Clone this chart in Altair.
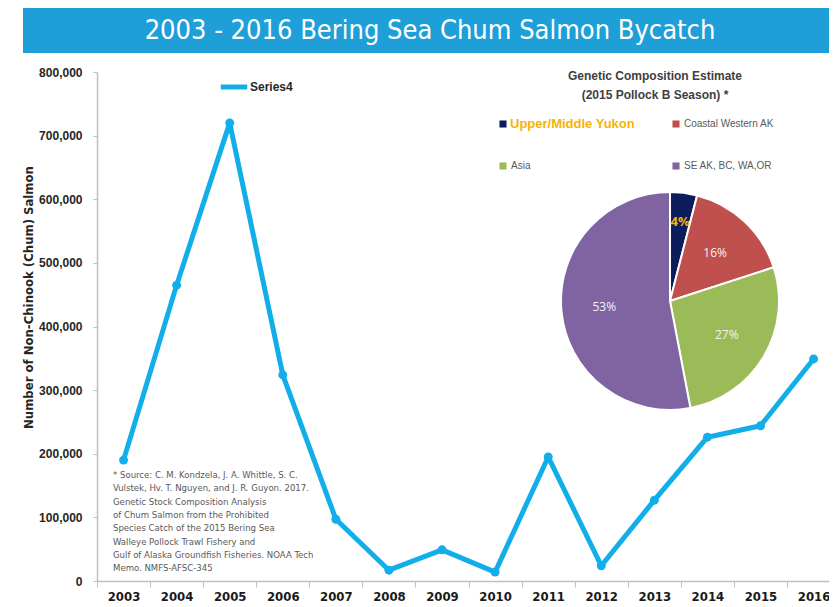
import altair as alt
import pandas as pd

# ---------------- data ----------------
years = list(range(2003, 2017))
chum = [190000, 465000, 720000, 324000, 97000, 17000, 49000, 14000,
        195000, 24000, 127000, 226000, 244000, 349000]
series_name = "Series4"

regions = ["Upper/Middle Yukon", "Coastal Western AK", "Asia", "SE AK, BC, WA,OR"]
shares = [4, 16, 27, 53]
region_colors = ["#0d1d5c", "#c0504d", "#9bbb59", "#8064a2"]

y_ticks = [0, 100000, 200000, 300000, 400000, 500000, 600000, 700000, 800000]

title_text = "2003 - 2016 Bering Sea Chum Salmon Bycatch"
y_title = "Number of Non-Chinook (Chum) Salmon"
pie_title = ["Genetic Composition Estimate", "(2015 Pollock B Season) *"]
source_lines = [
    "* Source: C. M. Kondzela, J. A. Whittle, S. C.",
    "Vulstek, Hv. T. Nguyen, and J. R. Guyon. 2017.",
    "Genetic Stock Composition Analysis",
    "of Chum Salmon from the Prohibited",
    "Species Catch of the 2015 Bering Sea",
    "Walleye Pollock Trawl Fishery and",
    "Gulf of Alaska Groundfish Fisheries. NOAA Tech",
    "Memo. NMFS-AFSC-345",
]

# ---------------- layout ----------------
W, H = 732, 509
LINE_COLOR = "#12aeea"
GRAY_AXIS = "#bfbfbf"
NARROW = "DejaVu Sans Condensed, Liberation Sans, sans-serif"

df = pd.DataFrame({"year": years, "count": chum, "series": series_name})
pie_df = pd.DataFrame({"region": regions, "share": shares,
                       "order": list(range(len(regions))),
                       "label": [f"{s}%" for s in shares]})
one = pd.DataFrame({"a": [0]})

line = alt.Chart(df).mark_line(
    strokeWidth=5, strokeJoin="round",
    point=alt.OverlayMarkDef(size=80, filled=True, opacity=1),
).encode(
    x=alt.X("year:Q",
            scale=alt.Scale(domain=[2002.5, 2016.29], nice=False, zero=False),
            axis=alt.Axis(values=[y - 0.5 for y in years],
                          labelExpr="toString(datum.value + 0.5)",
                          labelOffset=26.5, labelOverlap=False,
                          labelFlush=False,
                          title=None, grid=False,
                          domainColor=GRAY_AXIS, domainWidth=1.5,
                          tickColor=GRAY_AXIS, tickSize=6, tickWidth=1,
                          labelPadding=3, labelFont=NARROW,
                          labelFontSize=13, labelFontWeight="bold",
                          labelColor="#1a1a1a")),
    y=alt.Y("count:Q",
            scale=alt.Scale(domain=[0, 800000], nice=False),
            axis=alt.Axis(values=y_ticks, format=",d", grid=False,
                          title=y_title, titleX=-69, titleY=225,
                          titleAngle=-90, titleAlign="center",
                          titleBaseline="middle",
                          titleFont=NARROW, titleFontSize=13,
                          titleFontWeight="bold", titleColor="#262626",
                          domainColor=GRAY_AXIS, domainWidth=1.5,
                          tickColor=GRAY_AXIS, tickSize=4,
                          labelPadding=11, labelFont="Liberation Sans",
                          labelFontSize=12, labelFontWeight="bold",
                          labelColor="#262626")),
    color=alt.Color("series:N",
                    scale=alt.Scale(domain=[series_name], range=[LINE_COLOR]),
                    legend=alt.Legend(title=None, orient="none",
                                      legendX=121, legendY=-1,
                                      symbolType="stroke", symbolStrokeWidth=5,
                                      symbolSize=700, padding=0,
                                      labelFont="Liberation Sans",
                                      labelFontSize=12, labelFontWeight="bold",
                                      labelColor="#262626", labelOffset=0)),
)

title_bar = alt.Chart(one).mark_rect(color="#1f9fd8").encode(
    x=alt.value(-74), x2=alt.value(W + 20), y=alt.value(-65), y2=alt.value(-19))
title_txt = alt.Chart(one).mark_text(
    font=NARROW, fontSize=27, color="white",
    align="center", baseline="middle").encode(
    x=alt.value(333), y=alt.value(-41), text=alt.value(title_text))

CX, CY, R = 573, 229, 109
arcs = alt.Chart(pie_df).mark_arc(outerRadius=R, stroke="white", strokeWidth=2).encode(
    theta=alt.Theta("share:Q", stack=True),
    order=alt.Order("order:Q"),
    color=alt.Color("region:N",
                    scale=alt.Scale(domain=regions, range=region_colors),
                    legend=None),
    x=alt.value(CX), y=alt.value(CY))

is_first = alt.datum.order == 0
label_first = alt.Chart(pie_df).mark_text(
    radius=80, font="Open Sans", fontSize=13, fontWeight="bold",
    color="#f5b400").encode(
    theta=alt.Theta("share:Q", stack=True),
    order=alt.Order("order:Q"),
    text="label:N",
    opacity=alt.condition(is_first, alt.value(1), alt.value(0)),
    x=alt.value(CX), y=alt.value(CY))
label_rest = alt.Chart(pie_df).mark_text(
    radius=66, font="Open Sans", fontSize=12,
    color="#f2f2f2").encode(
    theta=alt.Theta("share:Q", stack=True),
    order=alt.Order("order:Q"),
    text="label:N",
    opacity=alt.condition(is_first, alt.value(0), alt.value(1)),
    x=alt.value(CX), y=alt.value(CY))

pie_head = alt.Chart(one).mark_text(
    font="Liberation Sans", fontSize=12, fontWeight="bold", color="#404040",
    align="center", baseline="alphabetic", lineBreak="\n", lineHeight=19).encode(
    x=alt.value(558), y=alt.value(8), text=alt.value("\n".join(pie_title)))

legend_layers = []
for i, reg in enumerate(regions):
    lx = 406 + (i % 2) * 173
    ly = 52 + (i // 2) * 42
    legend_layers.append(
        alt.Chart(one).mark_square(size=50, color=region_colors[i], opacity=1).encode(
            x=alt.value(lx), y=alt.value(ly)))
    if i == 0:
        legend_layers.append(
            alt.Chart(one).mark_text(font="Liberation Sans", fontSize=13,
                                     fontWeight="bold", color="#f5b400",
                                     align="left", baseline="middle").encode(
                x=alt.value(lx + 7), y=alt.value(ly), text=alt.value(reg)))
    else:
        legend_layers.append(
            alt.Chart(one).mark_text(font="Liberation Sans", fontSize=10,
                                     color="#595959",
                                     align="left", baseline="middle").encode(
                x=alt.value(lx + 8), y=alt.value(ly), text=alt.value(reg)))

source = alt.Chart(one).mark_text(
    font=NARROW, fontSize=9.5, color="#595959",
    align="left", baseline="alphabetic", lineBreak="\n", lineHeight=13.3).encode(
    x=alt.value(16), y=alt.value(406), text=alt.value("\n".join(source_lines)))

chart = alt.layer(
    title_bar, title_txt, line, arcs, label_first, label_rest, pie_head,
    *legend_layers, source
).resolve_scale(color="independent").properties(
    width=W, height=H,
    autosize=alt.AutoSizeParams(type="none"),
    padding={"left": 89, "top": 64, "right": 0, "bottom": 22},
    background="white",
).configure_view(stroke=None)

chart.save("out.html", embed_options={"renderer": "svg", "actions": False})
